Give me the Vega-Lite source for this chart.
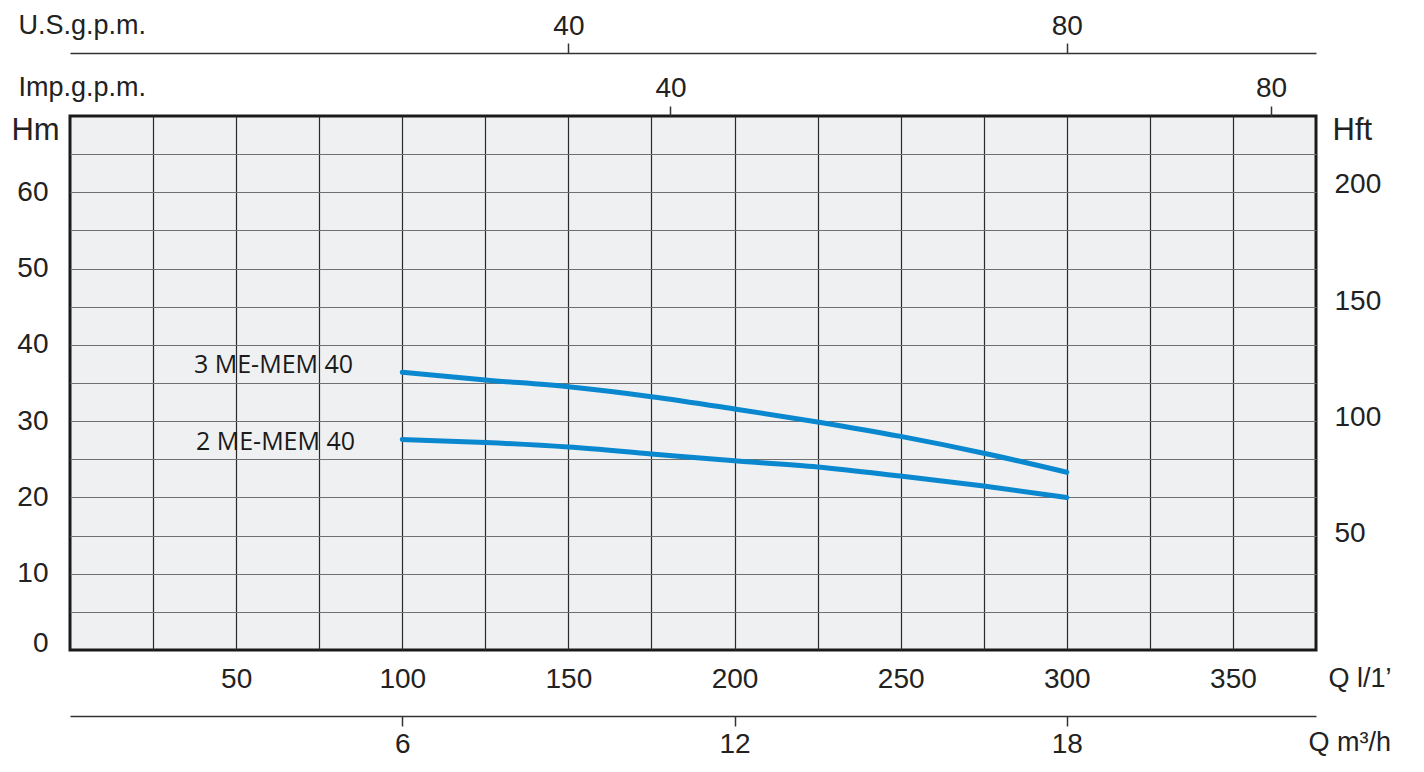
{
  "$schema": "https://vega.github.io/schema/vega-lite/v6.json",
  "width": 1246,
  "height": 534,
  "autosize": {"type": "none"},
  "padding": {"left": 70, "top": 116, "right": 108, "bottom": 122},
  "background": "white",
  "config": {
    "view": {"fill": "#eff0f2", "stroke": "#1a1a1a", "strokeWidth": 3},
    "axis": {
      "labelFont": "Liberation Sans",
      "labelFontSize": 28,
      "labelColor": "#222222",
      "labelFlush": false,
      "labelOverlap": false,
      "titleFont": "Liberation Sans",
      "titleFontSize": 27,
      "titleFontWeight": "normal",
      "titleColor": "#222222",
      "titleAngle": 0,
      "domainColor": "#333333",
      "domainWidth": 1.5,
      "tickColor": "#333333",
      "tickWidth": 1.5
    }
  },
  "datasets": {
    "curves": [
      {"pump": "3 ME-MEM 40", "q": 100, "h": 36.4},
      {"pump": "3 ME-MEM 40", "q": 125, "h": 35.4},
      {"pump": "3 ME-MEM 40", "q": 150, "h": 34.5},
      {"pump": "3 ME-MEM 40", "q": 175, "h": 33.2},
      {"pump": "3 ME-MEM 40", "q": 200, "h": 31.6},
      {"pump": "3 ME-MEM 40", "q": 225, "h": 29.9},
      {"pump": "3 ME-MEM 40", "q": 250, "h": 28.0},
      {"pump": "3 ME-MEM 40", "q": 275, "h": 25.8},
      {"pump": "3 ME-MEM 40", "q": 300, "h": 23.3},
      {"pump": "2 ME-MEM 40", "q": 100, "h": 27.6},
      {"pump": "2 ME-MEM 40", "q": 125, "h": 27.2},
      {"pump": "2 ME-MEM 40", "q": 150, "h": 26.6},
      {"pump": "2 ME-MEM 40", "q": 175, "h": 25.7},
      {"pump": "2 ME-MEM 40", "q": 200, "h": 24.8},
      {"pump": "2 ME-MEM 40", "q": 225, "h": 24.0},
      {"pump": "2 ME-MEM 40", "q": 250, "h": 22.8},
      {"pump": "2 ME-MEM 40", "q": 275, "h": 21.5},
      {"pump": "2 ME-MEM 40", "q": 300, "h": 20.0}
    ],
    "labels": [
      {"label": "3 ME-MEM 40", "q": 85.2, "h": 37.4},
      {"label": "2 ME-MEM 40", "q": 85.8, "h": 27.3}
    ]
  },
  "layer": [
    {
      "encoding": {
        "x": {
          "field": "q",
          "type": "quantitative",
          "scale": {"domain": [0, 375], "nice": false, "zero": false},
          "axis": {
            "orient": "bottom",
            "values": [25, 50, 75, 100, 125, 150, 175, 200, 225, 250, 275, 300, 325, 350],
            "labelExpr": "datum.value % 50 === 0 ? datum.label : ''",
            "ticks": false,
            "tickSize": 0,
            "domain": false,
            "labelPadding": 15,
            "grid": true,
            "gridColor": "#2a2a2a",
            "gridWidth": 1.2,
            "title": "Q l/1’",
            "titleX": 1258,
            "titleY": 28,
            "titleAlign": "left",
            "titleBaseline": "middle"
          }
        },
        "y": {
          "field": "h",
          "type": "quantitative",
          "scale": {"domain": [0, 70], "nice": false},
          "axis": {
            "orient": "left",
            "values": [0, 5, 10, 15, 20, 25, 30, 35, 40, 45, 50, 55, 60, 65],
            "labelExpr": "datum.value % 10 === 0 ? datum.label : ''",
            "labelOffset": {"condition": {"test": "datum.value === 0", "value": -7}, "value": 0},
            "ticks": false,
            "tickSize": 0,
            "domain": false,
            "labelPadding": 22,
            "grid": true,
            "gridColor": "#707070",
            "gridWidth": 1.2,
            "gridOpacity": {"condition": {"test": "datum.value === 0", "value": 0}, "value": 1},
            "title": "Hm",
            "titleFontSize": 31,
            "titleX": -35,
            "titleY": 14,
            "titleAlign": "center",
            "titleBaseline": "middle"
          }
        }
      },
      "layer": [
        {
          "data": {"name": "curves"},
          "mark": {"type": "line", "color": "#0a88cf", "strokeWidth": 5, "strokeCap": "round", "interpolate": "monotone"},
          "encoding": {"detail": {"field": "pump", "type": "nominal"}}
        },
        {
          "data": {"name": "labels"},
          "mark": {"type": "text", "align": "right", "baseline": "middle", "font": "Open Sans", "fontSize": 25, "color": "#1a1a1a"},
          "encoding": {"text": {"field": "label", "type": "nominal"}}
        }
      ]
    },
    {
      "data": {"values": [{"m3h": 0, "ft": 0}]},
      "mark": {"type": "point", "opacity": 0},
      "encoding": {
        "x": {
          "field": "m3h",
          "type": "quantitative",
          "scale": {"domain": [0, 22.5], "nice": false},
          "axis": {
            "orient": "bottom",
            "offset": 66,
            "values": [6, 12, 18],
            "tickSize": 10,
            "labelPadding": 4,
            "domain": true,
            "grid": false,
            "title": "Q m³/h",
            "titleX": 1238,
            "titleY": 26,
            "titleAlign": "left",
            "titleBaseline": "middle"
          }
        },
        "y": {
          "field": "ft",
          "type": "quantitative",
          "scale": {"domain": [0, 229.66], "nice": false},
          "axis": {
            "orient": "right",
            "values": [50, 100, 150, 200],
            "ticks": false,
            "tickSize": 0,
            "domain": false,
            "grid": false,
            "labelPadding": 18,
            "title": "Hft",
            "titleFontSize": 31,
            "titleX": 16,
            "titleY": 14,
            "titleAlign": "left",
            "titleBaseline": "middle"
          }
        }
      }
    },
    {
      "data": {"values": [{"usgpm": 0}]},
      "mark": {"type": "point", "opacity": 0},
      "encoding": {
        "x": {
          "field": "usgpm",
          "type": "quantitative",
          "scale": {"domain": [0, 100], "nice": false},
          "axis": {
            "orient": "top",
            "offset": 63,
            "values": [40, 80],
            "tickSize": 10,
            "labelPadding": 3,
            "domain": true,
            "grid": false,
            "title": "U.S.g.p.m.",
            "titleX": -52,
            "titleY": -28,
            "titleAlign": "left",
            "titleBaseline": "middle"
          }
        }
      }
    },
    {
      "data": {"values": [{"impgpm": 0}]},
      "mark": {"type": "point", "opacity": 0},
      "encoding": {
        "x": {
          "field": "impgpm",
          "type": "quantitative",
          "scale": {"domain": [0, 83], "nice": false},
          "axis": {
            "orient": "top",
            "offset": 0,
            "values": [40, 80],
            "tickSize": 10,
            "labelPadding": 4,
            "domain": false,
            "grid": false,
            "title": "Imp.g.p.m.",
            "titleX": -52,
            "titleY": -29,
            "titleAlign": "left",
            "titleBaseline": "middle"
          }
        }
      }
    }
  ],
  "resolve": {"scale": {"x": "independent", "y": "independent"}}
}
